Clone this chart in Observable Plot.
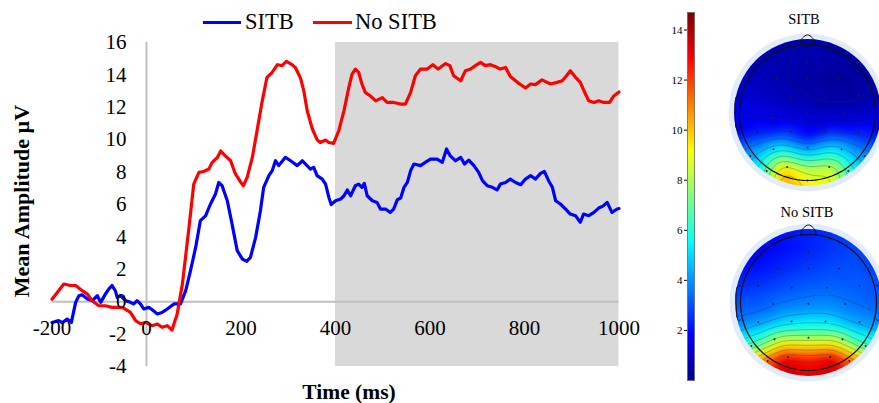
<!DOCTYPE html>
<html>
<head>
<meta charset="utf-8">
<script src="https://cdn.jsdelivr.net/npm/d3@7"></script>
<script src="https://cdn.jsdelivr.net/npm/@observablehq/plot@0.6"></script>
<style>
  body { margin: 0; background: #fff; }
  #wrap { position: relative; width: 879px; height: 403px; overflow: hidden;
          font-family: "Liberation Serif", "Times New Roman", serif; color: #000; }
  .abs { position: absolute; white-space: nowrap; }
</style>
</head>
<body>
<div id="wrap"></div>
<script>
// ---------- ERP waveform data (time in ms, amplitude in µV) ----------
const sitbTime = [-200,-186,-178,-168,-159,-150,-143,-136,-125,-115,-104,-97,-87,-80,-73,-66,-62,-55,-44,-34,-27,-20,-13,-6,5,12,23,33,44,58,65,72,83,93,104,114,125,135,146,153,160,171,181,192,203,212,220,231,241,248,259,266,273,280,294,305,319,330,347,354,361,372,379,386,391,400,411,418,425,432,442,449,456,461,467,478,488,495,506,516,523,531,538,545,552,559,566,580,590,601,615,626,635,643,654,665,673,682,693,703,711,721,732,742,749,760,770,781,792,802,813,823,834,842,851,859,866,876,887,897,908,918,925,936,947,957,966,975,985,996,1000];
const sitbAmp  = [-1.28,-1.17,-1.3,-1.07,-1.28,-0.04,0.37,0.43,0.16,0.06,0.37,-0.04,0.47,0.78,1.0,0.68,0.27,0.37,0.06,-0.04,-0.14,0.06,-0.14,-0.45,-0.35,-0.5,-0.76,-0.66,-0.45,-0.14,-0.14,-0.14,0.68,1.9,3.35,5.0,5.3,6.0,6.65,7.36,7.16,6.23,4.8,3.15,2.63,2.49,2.74,3.97,5.6,7.06,7.78,8.09,8.7,8.4,8.91,8.7,8.4,8.7,8.19,8.29,7.78,7.57,7.26,6.44,5.99,6.23,6.34,6.54,6.9,6.54,7.16,7.26,7.06,7.3,6.54,6.23,6.13,5.72,5.72,5.51,5.72,6.3,6.4,7.06,7.36,8.09,8.5,8.4,8.6,8.8,8.8,8.6,9.43,9.0,8.7,8.91,8.5,8.74,8.4,7.98,7.47,7.16,7.06,6.9,7.26,7.36,7.57,7.36,7.22,7.57,7.78,7.57,7.92,8.04,7.47,7.06,6.23,6.03,5.72,5.41,5.31,4.9,5.41,5.31,5.51,5.78,5.9,6.13,5.51,5.72,5.75];

const noSitbTime = [-200,-188,-175,-161,-150,-136,-125,-115,-101,-87,-73,-51,-34,-23,-13,-2,12,23,33,44,54,65,76,90,100,111,121,132,139,150,157,167,178,188,199,205,213,224,234,245,255,266,277,287,296,306,315,326,333,340,351,361,368,379,386,396,407,418,428,435,442,449,456,463,474,485,499,509,523,538,548,559,569,580,594,606,617,633,642,650,665,675,686,696,707,717,728,739,749,760,770,785,802,813,823,837,855,869,880,889,897,908,918,929,936,947,957,968,980,989,1000];
const noSitbAmp  = [0.15,0.6,1.09,1.0,1.0,0.68,0.47,0.06,-0.25,-0.25,-0.35,-0.35,-0.66,-1.17,-1.36,-1.28,-1.48,-1.38,-1.58,-1.48,-1.75,-0.76,1.1,4.6,7.26,7.98,8.04,8.19,8.6,8.9,9.3,9.0,8.7,7.9,7.4,7.16,7.67,8.9,10.56,12.4,13.85,14.15,14.63,14.57,14.83,14.67,14.46,13.8,13.0,11.8,10.66,10.0,9.83,9.98,9.83,9.77,10.56,11.8,13.2,14.05,14.36,14.15,13.44,12.92,12.7,12.4,12.6,12.3,12.3,12.2,12.2,12.92,13.95,14.36,14.36,14.63,14.36,14.7,14.57,13.95,13.64,14.26,14.36,14.57,14.77,14.57,14.63,14.5,14.36,14.46,13.9,13.54,13.19,13.44,13.4,13.69,13.44,13.54,13.64,13.95,14.26,13.85,13.54,12.82,12.4,12.3,12.4,12.3,12.3,12.7,12.95];

const seriesNames = ["SITB", "No SITB"];
const seriesColors = ["#0000ff", "#ff0000"];
const xTicks = [-200, 0, 200, 400, 600, 800, 1000];
const yTicks = [-4, -2, 0, 2, 4, 6, 8, 10, 12, 14, 16];
const windowMs = [400, 1000];

// ---------- Topographic maps (µV at grid points, rows top -> bottom) ----------
const topoX = [-1.1, -0.7, -0.35, 0, 0.35, 0.7, 1.1];
const topoY = [1.1, 0.8, 0.5, 0.2, -0.1, -0.35, -0.6, -0.85, -1.1];
const topoSitb = [
  [0.6, 0.6, 0.5, 0.5, 0.5, 0.6, 0.7],
  [0.7, 0.6, 0.5, 0.5, 0.4, 0.4, 0.6],
  [0.9, 0.7, 0.5, 0.35, 0.2, 0.2, 0.6],
  [1.3, 1.0, 0.7, 0.5, 0.35, 0.35, 0.8],
  [1.7, 1.5, 1.3, 1.1, 1.0, 1.1, 1.4],
  [2.0, 2.6, 3.1, 2.0, 3.1, 2.6, 2.0],
  [3.0, 4.6, 6.2, 4.8, 5.8, 4.2, 3.0],
  [4.0, 5.6, 9.8, 8.2, 8.6, 5.4, 4.0],
  [4.5, 6.5, 10.8, 9.5, 9.0, 5.5, 4.0]
];
const topoNoSitb = [
  [2.0, 2.0, 2.1, 2.3, 2.5, 2.6, 2.4],
  [2.0, 1.8, 2.0, 2.3, 2.6, 2.8, 2.4],
  [1.9, 2.1, 2.4, 2.7, 2.9, 3.0, 2.6],
  [2.5, 2.7, 3.0, 3.2, 3.3, 3.2, 3.0],
  [3.2, 3.3, 3.8, 4.0, 4.0, 3.6, 3.2],
  [3.8, 4.5, 5.5, 5.8, 5.6, 4.5, 3.8],
  [5.0, 6.8, 9.2, 9.0, 9.2, 6.8, 5.0],
  [8.0, 10.8, 13.2, 12.6, 13.2, 10.8, 8.0],
  [9.0, 12.2, 13.9, 13.3, 13.9, 12.2, 9.0]
];
const electrodes = [
  [-0.3,0.95],[0.3,0.95],[0,0.74],
  [-0.45,0.5],[0,0.5],[0.45,0.5],
  [-0.74,0.25],[-0.25,0.22],[0.27,0.22],[0.75,0.25],
  [-0.52,-0.02],[0,-0.02],[0.54,-0.02],
  [-0.74,-0.29],[-0.25,-0.28],[0.25,-0.28],[0.75,-0.29],
  [-0.5,-0.54],[0,-0.52],[0.5,-0.54],
  [-0.84,-0.64],[0.84,-0.64],
  [-0.3,-0.8],[0.32,-0.8],
  [-0.6,-0.86],[0.6,-0.86],[0,-1.0]
];
const colorbarTicks = [2, 4, 6, 8, 10, 12, 14];
const colorMax = 14.7;

// jet colour map
const jetStops = [0, 0.125, 0.375, 0.625, 0.875, 1];
const jetColors = ["#00008f", "#0000ff", "#00ffff", "#ffff00", "#ff0000", "#800000"];
const jetScale = { type: "linear", domain: jetStops.map(f => f * colorMax), range: jetColors, interpolate: "rgb", clamp: true };

const wrap = document.getElementById("wrap");
function place(node, left, top) {
  node.style.position = "absolute";
  node.style.left = left + "px";
  node.style.top = top + "px";
  wrap.appendChild(node);
  return node;
}
function label(text, left, top, css) {
  const d = document.createElement("div");
  d.className = "abs";
  d.textContent = text;
  d.style.left = left + "px";
  d.style.top = top + "px";
  Object.assign(d.style, css || {});
  wrap.appendChild(d);
  return d;
}

// ---------- Main ERP chart ----------
const sitbData = sitbTime.map((t, i) => ({ t, v: sitbAmp[i] }));
const noSitbData = noSitbTime.map((t, i) => ({ t, v: noSitbAmp[i] }));

const main = Plot.plot({
  width: 650, height: 403,
  marginLeft: 51.5, marginRight: 31.5, marginTop: 42, marginBottom: 37,
  x: { domain: [-200, 1000], axis: null },
  y: { domain: [-4, 16], axis: null },
  style: { fontFamily: "'Liberation Serif', 'Times New Roman', serif", background: "transparent", color: "#000" },
  marks: [
    Plot.rect([windowMs], { x1: d => d[0], x2: d => d[1], y1: () => -4, y2: () => 16, fill: "#d9d9d9" }),
    Plot.ruleX([0], { y1: -4, y2: 16, stroke: "#bfbfbf", strokeWidth: 2 }),
    Plot.ruleY([0], { x1: -200, x2: 1000, stroke: "#bfbfbf", strokeWidth: 2 }),
    Plot.line(sitbData, { x: "t", y: "v", stroke: seriesColors[0], strokeWidth: 3.2 }),
    Plot.line(noSitbData, { x: "t", y: "v", stroke: seriesColors[1], strokeWidth: 3.2 }),
    Plot.text(yTicks, { x: () => 0, y: d => d, text: d => String(d), textAnchor: "end", dx: -20, fontSize: 21, fill: "#000" }),
    Plot.text(xTicks, { x: d => d, y: () => 0, text: d => String(d), dy: 27, fontSize: 21, fill: "#000" })
  ]
});
place(main, 0, 0);

// legend
const legendItems = [
  { lineLeft: 203, lineWidth: 38, textLeft: 245 },
  { lineLeft: 313, lineWidth: 39, textLeft: 355 }
];
legendItems.forEach((it, i) => {
  const ln = document.createElement("div");
  ln.className = "abs";
  Object.assign(ln.style, { left: it.lineLeft + "px", top: "20.5px", width: it.lineWidth + "px", height: "3.2px", background: seriesColors[i] });
  wrap.appendChild(ln);
  label(seriesNames[i], it.textLeft, 6, { fontSize: "22.5px", lineHeight: "32px" });
});

// axis titles
label("Time (ms)", 249, 382, { width: "200px", textAlign: "center", fontSize: "21.5px", fontWeight: "bold", lineHeight: "20px" });
label("Mean Amplitude µV", -108, 186, { width: "260px", textAlign: "center", fontSize: "22px", fontWeight: "bold", lineHeight: "30px", transform: "rotate(-90deg)" });

// ---------- Colour bar ----------
const cbar = Plot.plot({
  width: 50, height: 403,
  marginLeft: 37, marginRight: 6, marginTop: 12, marginBottom: 23,
  x: { domain: [0, 1], axis: null },
  y: { domain: [0, colorMax], axis: null },
  color: jetScale,
  style: { fontFamily: "'Liberation Serif', 'Times New Roman', serif", background: "transparent", color: "#000" },
  marks: [
    Plot.raster({ fill: (x, y) => y, x1: 0, x2: 1, y1: 0, y2: colorMax, pixelSize: 1 }),
    Plot.frame({ stroke: "#666", strokeWidth: 0.8 }),
    Plot.axisY(colorbarTicks, { anchor: "left", tickSize: 3, tickPadding: 2, fontSize: 11, label: null, tickFormat: d => String(d) })
  ]
});
place(cbar, 650, 0);

// ---------- Topographic maps ----------
const headCircle = d3.range(0, 361, 3).map(a => ({ x: Math.cos(a * Math.PI / 180), y: Math.sin(a * Math.PI / 180) }));
const nose = [[-0.12, 0.99], [-0.07, 1.1], [0, 1.14], [0.07, 1.1], [0.12, 0.99]];
const leftEar = [[-0.995, 0.25], [-1.04, 0.24], [-1.065, 0.15], [-1.06, -0.1], [-1.05, -0.22], [-1.02, -0.27], [-0.99, -0.24]];
const rightEar = leftEar.map(([x, y]) => [-x, y]);

let clipId = 0;
function topo(values) {
  const pts = [];
  topoY.forEach((yy, i) => topoX.forEach((xx, j) => pts.push({ x: xx, y: yy, v: values[i][j] })));
  const size = 170, half = 1.25;
  const plot = Plot.plot({
    width: size, height: size, margin: 0,
    x: { domain: [-half, half], axis: null },
    y: { domain: [-half, half], axis: null },
    color: jetScale,
    style: { background: "transparent" },
    marks: [
      Plot.dot([{ x: 0, y: 0 }], { x: "x", y: "y", r: 1.16 * size / (2 * half), fill: "#e2ecf8", stroke: "none" }),
      Plot.raster(pts, { x: "x", y: "y", fill: "v", interpolate: "barycentric", x1: -1.1, x2: 1.1, y1: -1.1, y2: 1.1, pixelSize: 1, blur: 3, className: "topo-field" }),
      Plot.contour(pts, { x: "x", y: "y", value: "v", interpolate: "barycentric", x1: -1.1, x2: 1.1, y1: -1.1, y2: 1.1, blur: 3, thresholds: d3.range(0.5, 15, 1), stroke: "#303030", strokeOpacity: 0.5, strokeWidth: 0.6, fill: "none", className: "topo-iso" }),
      Plot.dot(electrodes, { x: d => d[0], y: d => d[1], r: 1, fill: "#222", stroke: "none" }),
      Plot.line(headCircle, { x: "x", y: "y", stroke: "#111", strokeWidth: 1.2 }),
      Plot.line(nose, { x: d => d[0], y: d => d[1], stroke: "#111", strokeWidth: 1, curve: "catmull-rom" }),
      Plot.line(leftEar, { x: d => d[0], y: d => d[1], stroke: "#111", strokeWidth: 1, curve: "catmull-rom" }),
      Plot.line(rightEar, { x: d => d[0], y: d => d[1], stroke: "#111", strokeWidth: 1, curve: "catmull-rom" })
    ]
  });
  const sx = plot.scale("x"), sy = plot.scale("y");
  const cx = sx.apply(0), cy = sy.apply(0), r = sx.apply(1.08) - cx;
  const id = "disc" + (clipId++);
  const svg = d3.select(plot);
  svg.insert("defs", ":first-child").append("clipPath").attr("id", id)
    .append("circle").attr("cx", cx).attr("cy", cy).attr("r", r);
  svg.selectAll(".topo-field, .topo-iso").attr("clip-path", `url(#${id})`);
  return plot;
}
place(topo(topoSitb), 722, 27);
place(topo(topoNoSitb), 723, 217);

label("SITB", 754, 9, { width: "100px", textAlign: "center", fontSize: "14.5px", lineHeight: "20px" });
label("No SITB", 757, 202, { width: "100px", textAlign: "center", fontSize: "14.5px", lineHeight: "20px" });
</script>
</body>
</html>
